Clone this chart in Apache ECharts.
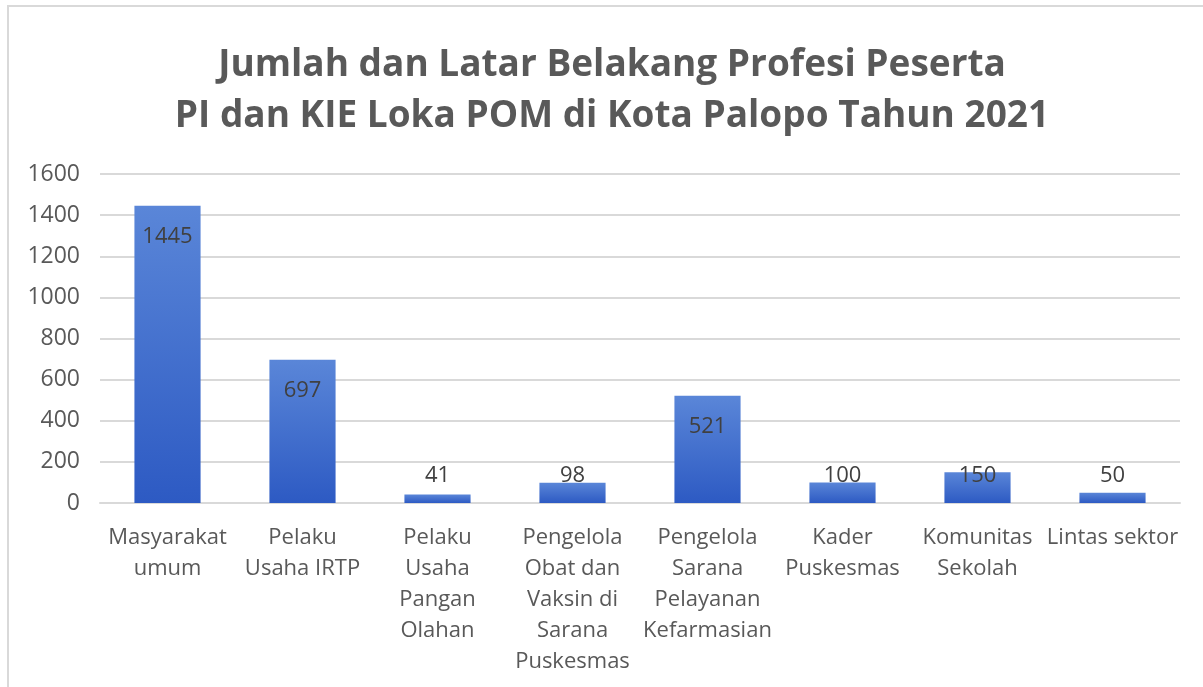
<!DOCTYPE html>
<html>
<head>
<meta charset="utf-8">
<script src="https://cdn.jsdelivr.net/npm/echarts@6/dist/echarts.min.js"></script>
<style>
html,body{margin:0;padding:0;background:#fff;}
#chart{width:1203px;height:687px;}
</style>
</head>
<body>
<div id="chart"></div>
<script>
const titleText = 'Jumlah dan Latar Belakang Profesi Peserta\nPI dan KIE Loka POM di Kota Palopo Tahun 2021';
const categories = [
  'Masyarakat\numum',
  'Pelaku\nUsaha IRTP',
  'Pelaku\nUsaha\nPangan\nOlahan',
  'Pengelola\nObat dan\nVaksin di\nSarana\nPuskesmas',
  'Pengelola\nSarana\nPelayanan\nKefarmasian',
  'Kader\nPuskesmas',
  'Komunitas\nSekolah',
  'Lintas sektor'
];
const values = [1445, 697, 41, 98, 521, 100, 150, 50];
const yTicks = { min: 0, max: 1600, interval: 200 };

const FONT = 'Open Sans';
const chart = echarts.init(document.getElementById('chart'));
chart.setOption({
  backgroundColor: '#fff',
  animation: false,
  graphic: [{
    type: 'rect',
    shape: { x: 8, y: 6, width: 1400, height: 900 },
    style: { fill: 'none', stroke: '#d9d9d9', lineWidth: 2 }
  }],
  title: {
    text: titleText,
    left: 607,
    top: 35,
    textAlign: 'center',
    textStyle: {
      fontFamily: FONT, fontWeight: 'bold', fontSize: 37,
      color: '#595959', lineHeight: 51
    }
  },
  grid: { left: 100, right: 23, top: 174, bottom: 184 },
  xAxis: {
    type: 'category',
    data: categories,
    axisLine: { lineStyle: { color: '#d9d9d9', width: 2 } },
    axisTick: { show: false },
    axisLabel: {
      interval: 0, margin: 19,
      fontFamily: FONT, fontSize: 22, color: '#595959', lineHeight: 31
    }
  },
  yAxis: {
    type: 'value',
    min: yTicks.min, max: yTicks.max, interval: yTicks.interval,
    axisLine: { show: false },
    axisTick: { show: false },
    splitLine: { lineStyle: { color: '#d9d9d9', width: 2 } },
    axisLabel: {
      margin: 20, fontFamily: FONT, fontSize: 23, color: '#595959',
      formatter: v => String(v)
    }
  },
  series: [{
    type: 'bar',
    barWidth: '49%',
    data: values.map(v => ({
      value: v,
      label: v > 300
        ? { position: 'insideTop', distance: 20 }
        : { position: 'insideBottom', distance: 16 }
    })),
    itemStyle: {
      color: new echarts.graphic.LinearGradient(0, 0, 0, 1, [
        { offset: 0, color: '#5a86d8' },
        { offset: 1, color: '#2d5ac3' }
      ])
    },
    label: {
      show: true, fontFamily: FONT, fontSize: 22, color: '#404040'
    }
  }]
});
</script>
</body>
</html>
